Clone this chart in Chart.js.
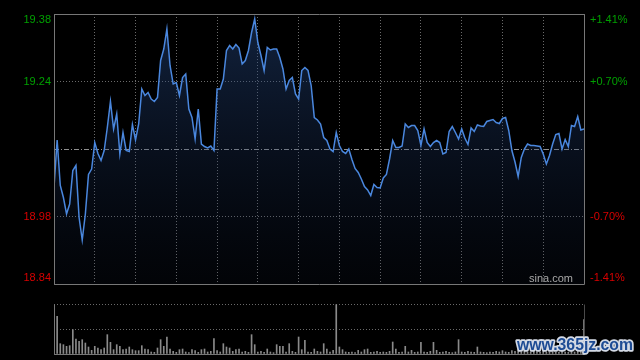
<!DOCTYPE html>
<html><head><meta charset="utf-8">
<script src="https://cdn.jsdelivr.net/npm/chart.js@4"></script>
<style>
html,body{margin:0;padding:0;background:#000;width:640px;height:360px;overflow:hidden}
#wrap{position:relative;width:640px;height:360px;background:#000}
#c1{position:absolute;left:0;top:0}
#c2{position:absolute;left:0;top:290px}
</style></head><body>
<div id="wrap">
<canvas id="c1" width="640" height="290"></canvas>
<canvas id="c2" width="640" height="70"></canvas>
</div>
<script>
// ---- data ----
const prevClose = 19.11;
const priceMin = 18.84, priceMax = 19.38;
const priceTicks = [18.84, 18.975, 19.11, 19.245, 19.38];
const priceLabels = ['18.84', '18.98', '', '19.24', '19.38'];
const pctLabels = ['-1.41%', '-0.70%', '', '+0.70%', '+1.41%'];
const prices = [
 19.033,19.128,19.037,19.013,18.980,19.000,19.067,19.077,18.973,18.928,
 18.980,19.059,19.070,19.123,19.101,19.087,19.107,19.153,19.205,19.150,
 19.180,19.100,19.143,19.107,19.105,19.159,19.128,19.160,19.230,19.217,
 19.223,19.210,19.205,19.213,19.287,19.310,19.350,19.277,19.240,19.243,
 19.217,19.253,19.260,19.190,19.173,19.130,19.190,19.120,19.115,19.112,
 19.116,19.107,19.230,19.230,19.250,19.307,19.317,19.310,19.319,19.312,
 19.280,19.287,19.307,19.343,19.370,19.323,19.297,19.267,19.313,19.308,
 19.310,19.310,19.293,19.270,19.230,19.247,19.253,19.220,19.210,19.267,
 19.273,19.267,19.237,19.173,19.168,19.160,19.133,19.127,19.110,19.105,
 19.143,19.117,19.105,19.101,19.110,19.089,19.071,19.063,19.050,19.035,
 19.028,19.017,19.039,19.033,19.032,19.052,19.059,19.090,19.127,19.113,
 19.113,19.116,19.160,19.153,19.157,19.157,19.147,19.117,19.150,19.123,
 19.115,19.123,19.127,19.123,19.100,19.103,19.145,19.155,19.143,19.130,
 19.150,19.132,19.119,19.152,19.145,19.158,19.156,19.155,19.165,19.167,
 19.169,19.163,19.161,19.171,19.173,19.147,19.107,19.084,19.055,19.093,
 19.110,19.120,19.117,19.117,19.116,19.115,19.100,19.080,19.097,19.120,
 19.139,19.141,19.110,19.129,19.115,19.157,19.155,19.175,19.148,19.150
];
const volumes = [
 48,113,31,28,23,25,73,45,38,43,
 33,21,11,23,18,13,18,58,35,13,
 28,23,13,15,21,13,10,10,25,15,
 13,6,5,18,43,23,51,15,8,5,
 13,15,6,4,13,10,5,13,15,6,
 8,46,10,6,31,21,18,8,13,15,
 6,8,5,58,28,6,8,5,15,6,
 4,28,23,23,6,31,8,5,51,13,
 41,6,5,15,8,6,31,15,6,11,
 148,21,13,6,5,6,4,11,6,13,
 15,5,6,8,5,6,5,8,36,15,
 5,6,23,6,11,5,6,35,6,5,
 8,35,11,5,6,8,5,4,6,43,
 6,5,8,6,5,21,6,5,4,6,
 5,8,6,10,6,5,10,8,13,6,
 8,5,6,10,5,6,8,5,6,8,
 5,6,10,6,5,8,6,10,8,103
];
const volMax = 150;
const volTicks = [0, 75, 150];
const siteText = 'sina.com';
const markText = 'www.365jz.com';

// ---- styles ----
const FONT = '"Liberation Sans", Arial, sans-serif';
const UP = '#00a000', DOWN = '#d80000';
const GRID = '#6a6a6a', FRAME = '#777777';
const N = prices.length;
const gridEvery = 13;

function tickColor(v) { return v > prevClose + 1e-9 ? UP : (v < prevClose - 1e-9 ? DOWN : '#aaaaaa'); }
function edgeLabel(lbl, i, n) {
  if (i === 0) return [lbl, ''];       // bottom label nudged up inside
  if (i === n - 1) return ['', lbl];   // top label nudged down inside
  return lbl;
}

const framePlugin = {
  id: 'frame',
  afterDraw(chart, args, opts) {
    const {ctx, chartArea: a} = chart;
    const l = Math.round(a.left) + 0.5, t = Math.round(a.top) + 0.5;
    const r = Math.round(a.right) + 0.5, b = Math.round(a.bottom) + 0.5;
    ctx.save();
    ctx.lineWidth = 1;
    ctx.strokeStyle = opts.color;
    ctx.beginPath();
    if (opts.full) {
      ctx.rect(l, t, r - l, b - t);
    } else {
      ctx.moveTo(l, t); ctx.lineTo(l, b); ctx.lineTo(r, b);
    }
    ctx.stroke();
    if (!opts.full) {
      ctx.strokeStyle = '#4a4a4a';
      ctx.beginPath(); ctx.moveTo(r, t); ctx.lineTo(r, b); ctx.stroke();
    }
    if (opts.text) {
      ctx.font = '11px ' + FONT;
      ctx.fillStyle = '#a8a8a8';
      ctx.textAlign = 'right';
      ctx.textBaseline = 'middle';
      ctx.fillText(opts.text, a.right - 11, a.bottom - 5);
    }
    if (opts.mark) {
      ctx.font = 'bold 17px ' + FONT;
      const w = ctx.measureText(opts.mark).width;
      const target = 116;
      ctx.translate(a.right - 9, a.bottom - 9);
      ctx.scale(target / w, 1);
      ctx.textAlign = 'center';
      ctx.textBaseline = 'middle';
      ctx.lineJoin = 'round';
      ctx.lineWidth = 3.5;
      ctx.strokeStyle = '#d3d9e4';
      ctx.strokeText(opts.mark, 0, 0);
      ctx.fillStyle = '#1d4b94';
      ctx.fillText(opts.mark, 0, 0);
    }
    ctx.restore();
  }
};

Chart.register(framePlugin);

// ---- price chart ----
new Chart(document.getElementById('c1'), {
  type: 'line',
  data: {
    datasets: [{
      data: prices.map((p, i) => ({x: i, y: p})),
      borderColor: '#4a87de',
      borderWidth: 1.5,
      pointRadius: 0,
      tension: 0,
      fill: 'start',
      backgroundColor: (c) => {
        const a = c.chart.chartArea;
        if (!a) return 'rgba(0,0,0,0)';
        const g = c.chart.ctx.createLinearGradient(0, a.top, 0, a.bottom);
        g.addColorStop(0, 'rgba(40,78,140,0.45)');
        g.addColorStop(1, 'rgba(20,35,70,0.10)');
        return g;
      }
    }]
  },
  options: {
    responsive: false, devicePixelRatio: 1, animation: false,
    layout: {padding: {top: 14, bottom: 6, left: 0, right: 0}},
    plugins: {legend: {display: false}, tooltip: {enabled: false},
      frame: {color: FRAME, full: true, text: siteText}},
    scales: {
      x: {type: 'linear', min: 0, max: N - 1,
        ticks: {display: false},
        grid: {color: GRID, drawTicks: false},
        border: {display: false, dash: [1, 2]},
        afterBuildTicks: s => { const t = []; for (let v = 0; v <= N - 1; v += gridEvery) t.push({value: v}); s.ticks = t; },
        afterFit: s => { s.height = 0; s.paddingLeft = 0; s.paddingRight = 0; }},
      y: {position: 'left', min: priceMin, max: priceMax,
        ticks: {display: false},
        grid: {drawTicks: false, color: c => (c.tick && c.tick.value === prevClose) ? '#909090' : GRID},
        border: {display: false, dash: c => (c.tick && c.tick.value === prevClose) ? [5, 2, 1, 2] : [1, 2]},
        afterBuildTicks: s => { s.ticks = priceTicks.map(v => ({value: v})); },
        afterFit: s => { s.width = 0; s.paddingTop = 0; s.paddingBottom = 0; }},
      yL: {position: 'left', min: priceMin, max: priceMax,
        grid: {display: false, drawTicks: false}, border: {display: false},
        afterBuildTicks: s => { s.ticks = priceTicks.map(v => ({value: v})); },
        ticks: {padding: 3, font: {size: 11, family: FONT, lineHeight: 1.1},
          color: c => tickColor(priceTicks[c.index]),
          callback: (v, i) => edgeLabel(priceLabels[i], i, priceLabels.length)},
        afterFit: s => { s.width = 54; s.paddingTop = 0; s.paddingBottom = 0; }},
      yR: {position: 'right', min: priceMin, max: priceMax,
        grid: {display: false, drawTicks: false}, border: {display: false},
        afterBuildTicks: s => { s.ticks = priceTicks.map(v => ({value: v})); },
        ticks: {padding: 6, font: {size: 11, family: FONT, lineHeight: 1.1},
          color: c => tickColor(priceTicks[c.index]),
          callback: (v, i) => edgeLabel(pctLabels[i], i, pctLabels.length)},
        afterFit: s => { s.width = 56; s.paddingTop = 0; s.paddingBottom = 0; }}
    }
  }
});

// ---- volume chart ----
new Chart(document.getElementById('c2'), {
  type: 'bar',
  data: {
    datasets: [{
      data: volumes.map((v, i) => ({x: i, y: v})),
      backgroundColor: '#8a8a8a',
      borderWidth: 0,
      barThickness: 1
    }]
  },
  options: {
    responsive: false, devicePixelRatio: 1, animation: false,
    layout: {padding: {top: 14, bottom: 6, left: 0, right: 0}},
    plugins: {legend: {display: false}, tooltip: {enabled: false},
      frame: {color: FRAME, full: false, mark: markText}},
    scales: {
      x: {type: 'linear', min: 0, max: N - 1, offset: false,
        ticks: {display: false}, grid: {display: false, drawTicks: false}, border: {display: false},
        afterFit: s => { s.height = 0; s.paddingLeft = 0; s.paddingRight = 0; }},
      y: {position: 'left', min: 0, max: volMax,
        ticks: {display: false},
        grid: {drawTicks: false, color: GRID},
        border: {display: false, dash: c => (c.tick && c.tick.value === 0) ? [] : [1, 2]},
        afterBuildTicks: s => { s.ticks = volTicks.map(v => ({value: v})); },
        afterFit: s => { s.width = 54; s.paddingTop = 0; s.paddingBottom = 0; }},
      yR: {position: 'right', min: 0, max: volMax,
        ticks: {display: false}, grid: {display: false, drawTicks: false}, border: {display: false},
        afterFit: s => { s.width = 56; s.paddingTop = 0; s.paddingBottom = 0; }}
    }
  }
});
</script>
</body></html>
